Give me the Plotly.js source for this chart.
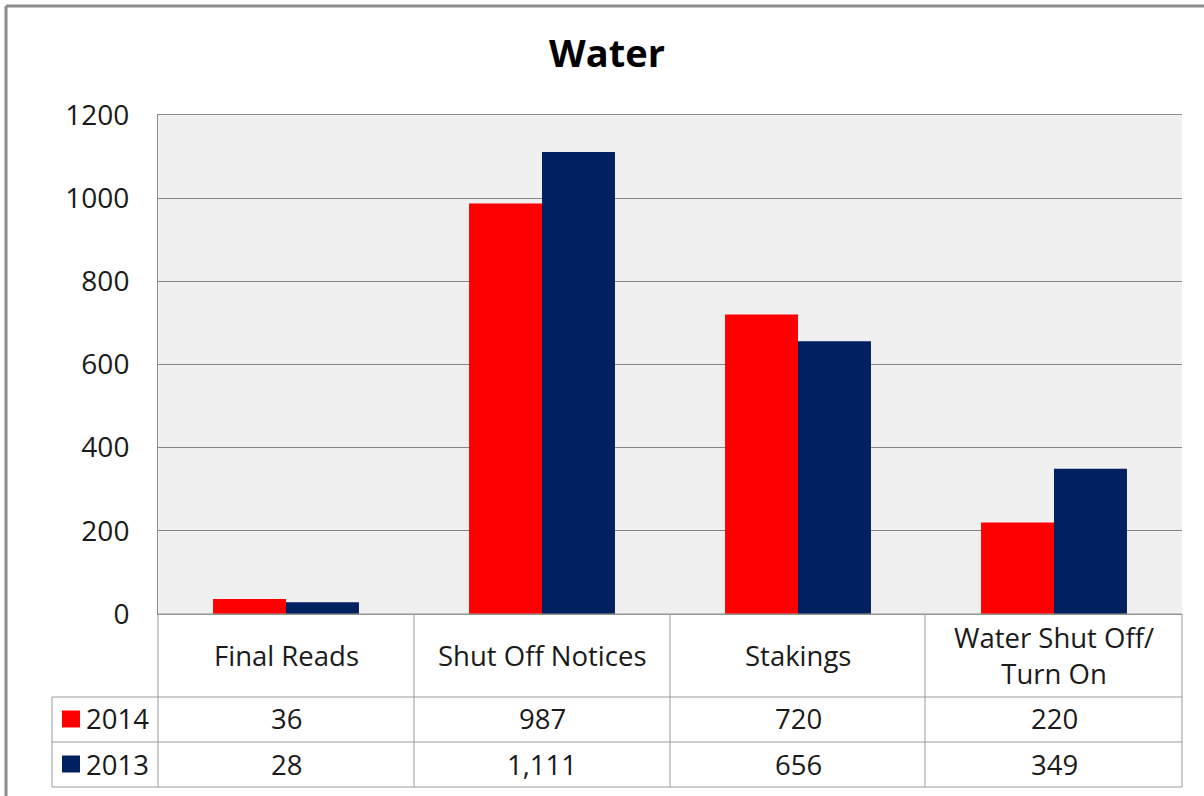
<!DOCTYPE html>
<html>
<head>
<meta charset="utf-8">
<script src="https://cdn.plot.ly/plotly-3.0.1.min.js"></script>
<style>html,body{margin:0;padding:0;background:#fff;}#chart{width:1204px;height:796px;}</style>
</head>
<body>
<div id="chart"></div>
<script>
const categories = ['Final Reads', 'Shut Off Notices', 'Stakings', 'Water Shut Off/<br>Turn On'];
const seriesNames = ['2014', '2013'];
const values2014 = [36, 987, 720, 220];
const values2013 = [28, 1111, 656, 349];
const seriesColors = ['#ff0000', '#002060'];
const yTicks = [0, 200, 400, 600, 800, 1000, 1200];

// Pixel layout helpers (plot area 158..1182 x, 115..614 y)
const L = 158, R = 1182, T = 115, B = 614;
const px = x => (x - L) / (R - L);
const py = y => (B - y) / (B - T);

const FONT = 'Open Sans, Noto Sans, sans-serif';
const lineCol = '#9a9a9a';
const TXT = 27.5;

const traces = [
  {type: 'bar', name: seriesNames[0], x: categories, y: values2014, marker: {color: seriesColors[0]}},
  {type: 'bar', name: seriesNames[1], x: categories, y: values2013, marker: {color: seriesColors[1]}}
];

const shapes = [];
const annotations = [];
function hline(x0, x1, y, color, w) {
  shapes.push({type: 'line', xref: 'paper', yref: 'paper', x0: px(x0), x1: px(x1), y0: py(y), y1: py(y), line: {color: color || lineCol, width: w || 1}});
}
function vline(x, y0, y1, color, w) {
  shapes.push({type: 'line', xref: 'paper', yref: 'paper', x0: px(x), x1: px(x), y0: py(y0), y1: py(y1), line: {color: color || lineCol, width: w || 1}});
}
// outer chart border (left & top)
vline(6, 6, 800, '#8c8c8c', 3);
hline(6, 1210, 6, '#8c8c8c', 3);

// data table grid
hline(L, R, 614);
hline(52, R, 697);
hline(52, R, 742);
hline(52, R, 787);
vline(52, 697, 787);
const colEdges = [158, 414, 670, 925, 1182];
colEdges.forEach(x => vline(x, 614, 787));

// header labels
categories.forEach((c, i) => {
  annotations.push({xref: 'x', yref: 'paper', x: c, y: py(655), text: c, showarrow: false,
    xanchor: 'center', yanchor: 'middle', font: {family: FONT, size: TXT, color: '#1a1a1a'}});
});
// rows
const rows = [values2014, values2013];
const rowCenters = [719, 764];
rows.forEach((vals, r) => {
  shapes.push({type: 'rect', xref: 'paper', yref: 'paper', x0: px(62), x1: px(80), y0: py(rowCenters[r] - 8.5), y1: py(rowCenters[r] + 8.5),
    fillcolor: seriesColors[r], line: {width: 0}});
  annotations.push({xref: 'paper', yref: 'paper', x: px(84), y: py(rowCenters[r]), text: seriesNames[r], showarrow: false,
    xanchor: 'left', yanchor: 'middle', font: {family: FONT, size: TXT, color: '#1a1a1a'}});
  vals.forEach((v, i) => {
    annotations.push({xref: 'x', yref: 'paper', x: categories[i], y: py(rowCenters[r]), text: v.toLocaleString('en-US'), showarrow: false,
      xanchor: 'center', yanchor: 'middle', font: {family: FONT, size: TXT, color: '#1a1a1a'}});
  });
});

const layout = {
  width: 1204, height: 796,
  margin: {l: L, r: 1204 - R, t: T, b: 796 - B, pad: 0},
  paper_bgcolor: '#ffffff',
  plot_bgcolor: '#f0f0f0',
  showlegend: false,
  barmode: 'group',
  bargap: 0.43,
  bargroupgap: 0,
  title: {text: '<b>Water</b>', font: {family: FONT, size: 38, color: '#000'}, xref: 'container', yref: 'container',
    x: 607 / 1204, xanchor: 'center', y: 1 - 54 / 796, yanchor: 'middle'},
  xaxis: {type: 'category', showticklabels: false, ticks: '', showgrid: false, zeroline: false,
    showline: true, mirror: true, linecolor: '#8c8c8c', linewidth: 1, fixedrange: true},
  yaxis: {range: [0, 1200], tickvals: yTicks, ticktext: yTicks.map(String), showgrid: true, gridcolor: '#868686', gridwidth: 1,
    zeroline: false, showline: true, linecolor: '#8c8c8c', linewidth: 1, ticks: '', ticklabelstandoff: 22,
    tickfont: {family: FONT, size: 28, color: '#1a1a1a'}, fixedrange: true},
  shapes: shapes,
  annotations: annotations
};

Plotly.newPlot('chart', traces, layout, {displayModeBar: false, staticPlot: true});
</script>
</body>
</html>
